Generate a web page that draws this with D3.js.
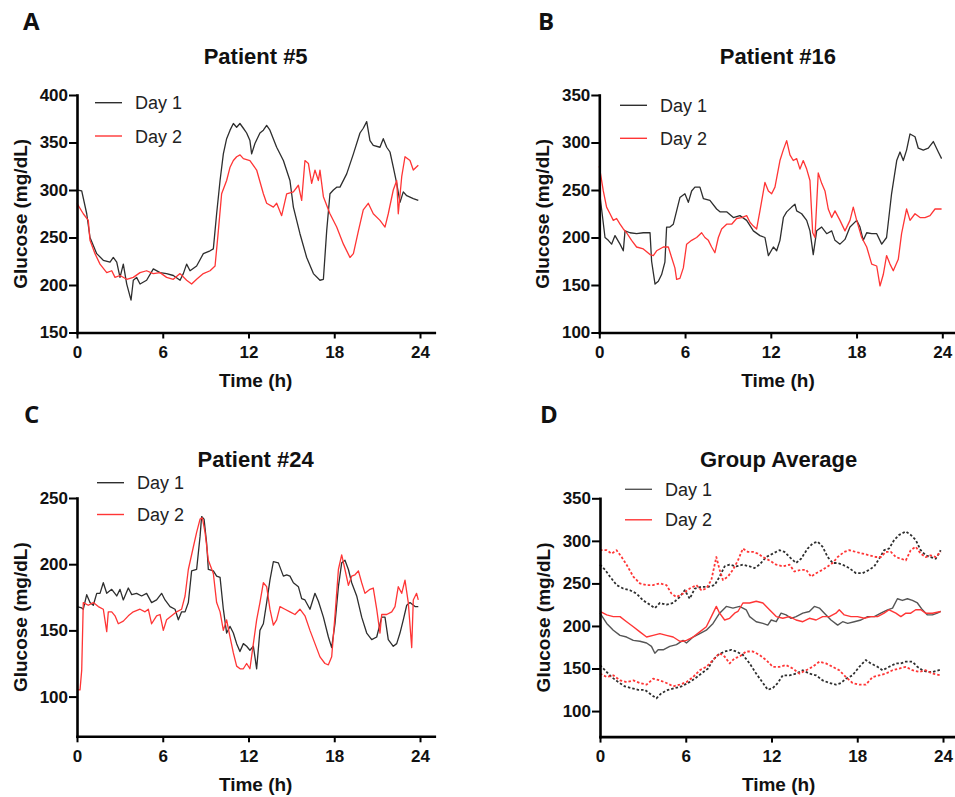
<!DOCTYPE html>
<html>
<head>
<meta charset="utf-8">
<script src="https://cdn.jsdelivr.net/npm/d3@7"></script>
<style>
  body { margin: 0; background: #fff; }
  svg text { font-family: "Liberation Sans", Arial, sans-serif; }
</style>
</head>
<body>
<div id="chart"></div>
<script>
// glucose traces, [time (h), glucose (mg/dL)]
const p5Day1 = [[0,300],[0.33,299],[0.68,275],[0.91,250],[1.38,233],[1.84,226],[2.31,224],[2.54,229],[2.78,224],[3.01,208],[3.24,222],[3.48,201],[3.78,184],[3.94,205],[4.17,208],[4.41,201],[4.87,205],[5.34,217],[5.81,213],[6.27,212],[6.74,210],[7.21,205],[7.44,212],[7.67,222],[7.91,215],[8.37,220],[8.84,233],[9.31,236],[9.54,238],[9.77,275],[10.01,310],[10.24,338],[10.47,354],[10.71,363],[10.94,370],[11.17,366],[11.4,370],[11.64,365],[11.87,360],[12.1,352],[12.22,338],[12.45,349],[12.8,360],[13.04,363],[13.27,368],[13.5,363],[13.97,345],[14.44,331],[14.9,310],[15.14,282],[15.37,268],[15.6,254],[16.07,229],[16.54,212],[17.0,205],[17.24,206],[17.47,257],[17.7,296],[17.94,300],[18.17,303],[18.4,303],[18.87,317],[19.34,338],[19.8,360],[20.03,365],[20.27,372],[20.5,352],[20.73,347],[21.2,345],[21.43,354],[21.67,345],[21.9,340],[22.13,324],[22.37,307],[22.6,287],[22.83,298],[23.07,294],[23.53,291],[23.88,289]];
const p5Day2 = [[0,286],[0.44,275],[0.79,268],[0.91,247],[1.26,233],[1.61,222],[2.08,213],[2.43,215],[2.66,208],[3.01,210],[3.48,206],[3.94,208],[4.41,213],[4.87,215],[5.34,212],[5.81,213],[6.27,208],[6.74,206],[7.21,212],[7.67,205],[8.02,201],[8.37,206],[8.84,212],[9.31,215],[9.66,220],[9.89,257],[10.12,296],[10.47,310],[10.71,324],[10.94,331],[11.17,335],[11.41,337],[11.64,333],[12.1,331],[12.57,321],[13.04,296],[13.27,286],[13.74,282],[13.97,286],[14.32,273],[14.67,296],[15.14,298],[15.49,305],[15.72,289],[15.95,331],[16.19,328],[16.42,307],[16.65,321],[16.89,310],[17.0,321],[17.24,293],[17.7,275],[18.17,261],[18.64,243],[19.1,229],[19.34,233],[19.69,257],[20.03,279],[20.38,286],[20.73,275],[21.2,268],[21.55,261],[21.78,275],[22.13,300],[22.37,310],[22.48,275],[22.72,314],[22.95,335],[23.3,331],[23.53,321],[23.88,326]];

const p16Day1 = [[0,250],[0.4,200],[0.63,197],[0.86,193],[1.1,202],[1.45,193],[1.68,186],[1.8,207],[2.15,205],[2.61,204],[3.08,205],[3.55,205],[3.66,175],[3.9,151],[4.13,154],[4.36,161],[4.59,174],[4.71,211],[4.94,211],[5.18,214],[5.41,228],[5.64,242],[5.99,246],[6.23,237],[6.46,249],[6.69,253],[7.04,253],[7.28,241],[7.74,239],[8.21,230],[8.44,227],[8.91,227],[9.38,221],[9.84,223],[10.31,218],[10.78,207],[11.24,202],[11.59,200],[11.83,181],[12.18,190],[12.41,186],[12.64,197],[12.88,221],[13.11,227],[13.46,232],[13.69,235],[13.81,228],[14.16,225],[14.51,218],[14.74,207],[14.97,182],[15.21,207],[15.56,211],[15.91,204],[16.26,207],[16.49,197],[16.84,193],[17.19,198],[17.54,211],[18.01,218],[18.24,211],[18.47,197],[18.71,205],[19.06,204],[19.41,204],[19.76,193],[20.1,200],[20.45,246],[20.81,281],[21.04,290],[21.27,281],[21.5,292],[21.74,309],[22.09,306],[22.32,294],[22.67,292],[23.02,294],[23.37,301],[23.72,290],[23.95,283]];
const p16Day2 = [[0,275],[0.28,249],[0.51,232],[0.75,225],[0.98,218],[1.21,220],[1.45,214],[1.68,209],[1.91,205],[2.26,197],[2.61,190],[3.08,188],[3.55,182],[3.78,181],[4.01,186],[4.48,190],[4.83,190],[5.06,179],[5.29,168],[5.41,156],[5.64,157],[5.88,168],[6.11,193],[6.46,197],[6.81,200],[7.16,205],[7.39,200],[7.63,197],[7.86,190],[8.09,184],[8.33,200],[8.56,209],[8.91,214],[9.26,214],[9.61,220],[9.96,221],[10.31,223],[10.54,216],[10.78,212],[11.01,209],[11.24,228],[11.59,258],[11.83,249],[12.06,246],[12.29,253],[12.64,281],[12.87,292],[13.11,302],[13.34,287],[13.57,281],[13.81,283],[14.04,272],[14.27,281],[14.51,272],[14.74,260],[14.93,205],[15.09,200],[15.32,268],[15.56,257],[15.79,249],[16.02,230],[16.26,221],[16.49,228],[16.84,218],[17.19,207],[17.54,218],[17.77,232],[18.01,218],[18.36,200],[18.71,190],[19.06,172],[19.41,170],[19.64,149],[19.87,161],[20.1,181],[20.34,172],[20.57,165],[20.92,177],[21.15,204],[21.5,230],[21.74,218],[22.09,225],[22.44,221],[22.79,221],[23.14,223],[23.49,230],[23.95,230]];

const p24Day1 = [[0,168],[0.33,167],[0.44,166],[0.68,177],[0.91,171],[1.14,169],[1.38,178],[1.61,178],[1.84,186],[2.08,178],[2.43,181],[2.78,176],[3.01,181],[3.24,173],[3.59,182],[3.83,177],[4.17,178],[4.52,176],[4.87,178],[5.22,171],[5.57,173],[5.92,178],[6.16,173],[6.51,168],[6.86,166],[7.09,158],[7.32,164],[7.56,164],[7.79,171],[8.02,195],[8.37,196],[8.61,221],[8.72,236],[8.89,234],[9.07,216],[9.19,196],[9.54,195],[9.77,191],[10.01,190],[10.24,166],[10.47,148],[10.71,153],[10.94,148],[11.17,140],[11.4,134],[11.64,140],[11.87,138],[12.1,135],[12.34,138],[12.57,121],[12.8,150],[13.04,155],[13.27,171],[13.5,188],[13.74,202],[14.09,201],[14.44,191],[14.67,192],[14.9,191],[15.14,186],[15.49,183],[15.72,174],[15.95,173],[16.3,166],[16.65,178],[16.89,172],[17.24,160],[17.59,145],[17.82,137],[18.05,155],[18.29,183],[18.52,201],[18.75,203],[18.99,196],[19.22,186],[19.57,176],[19.92,160],[20.27,148],[20.62,143],[20.97,145],[21.32,160],[21.55,160],[21.78,143],[22.13,138],[22.37,140],[22.6,148],[22.83,158],[23.07,169],[23.3,171],[23.65,168],[23.88,168]];
const p24Day2 = [[0,105],[0.21,105],[0.33,120],[0.44,171],[0.79,169],[1.14,171],[1.49,168],[1.84,166],[2.08,149],[2.19,164],[2.43,164],[2.66,161],[2.89,155],[3.24,157],[3.59,161],[3.94,164],[4.41,166],[4.76,164],[4.99,166],[5.22,155],[5.57,161],[5.81,162],[6.04,150],[6.27,158],[6.62,161],[6.97,164],[7.32,166],[7.56,176],[7.79,196],[8.14,213],[8.37,224],[8.61,234],[8.77,235],[8.96,224],[9.19,203],[9.54,193],[9.77,171],[10.01,164],[10.24,150],[10.47,158],[10.71,145],[10.94,133],[11.17,123],[11.41,121],[11.64,121],[11.87,125],[12.1,121],[12.34,140],[12.57,158],[12.8,171],[13.04,186],[13.27,183],[13.5,166],[13.74,154],[13.97,158],[14.2,168],[14.55,166],[14.9,164],[15.25,162],[15.6,166],[15.95,161],[16.3,150],[16.65,140],[17.0,130],[17.35,125],[17.59,124],[17.82,130],[18.05,161],[18.29,196],[18.52,207],[18.75,196],[18.99,184],[19.22,191],[19.45,192],[19.69,195],[19.92,186],[20.15,178],[20.5,181],[20.73,182],[20.97,166],[21.2,148],[21.32,162],[21.67,162],[22.02,164],[22.25,168],[22.48,183],[22.72,178],[22.95,188],[23.18,171],[23.42,137],[23.53,173],[23.76,178],[23.88,173]];

// group average: mean and upper / lower bands (dotted)
const gaDay1 = [[0,215],[0.47,203],[0.93,195],[1.4,189],[1.86,187],[2.33,183],[2.79,182],[3.26,180],[3.6,176],[3.84,168],[4.07,172],[4.42,172],[4.88,176],[5.35,178],[5.81,183],[6.05,180],[6.51,187],[6.98,191],[7.44,195],[7.91,203],[8.37,215],[8.84,223],[9.3,221],[9.77,223],[10.23,219],[10.47,211],[10.93,205],[11.4,203],[11.74,201],[11.98,207],[12.33,205],[12.67,215],[13.02,213],[13.37,209],[13.72,211],[14.19,215],[14.65,217],[15.0,223],[15.35,221],[15.7,215],[16.16,207],[16.63,201],[16.98,205],[17.33,203],[17.79,205],[18.26,207],[18.72,211],[19.19,211],[19.65,215],[20.12,219],[20.47,221],[20.81,232],[21.16,230],[21.51,232],[21.86,230],[22.21,227],[22.56,219],[22.91,213],[23.26,213],[23.6,215],[23.84,217]];
const gaDay2 = [[0,217],[0.47,213],[0.93,211],[1.4,211],[1.86,205],[2.33,199],[2.79,193],[3.26,187],[3.72,189],[4.19,191],[4.65,189],[5.12,187],[5.58,182],[5.81,182],[6.05,183],[6.51,187],[6.98,193],[7.44,199],[7.79,211],[8.14,223],[8.37,215],[8.72,207],[9.07,209],[9.42,215],[9.65,217],[10.0,227],[10.47,227],[10.93,229],[11.4,227],[11.86,219],[12.33,211],[12.79,209],[13.26,211],[13.72,207],[14.19,205],[14.65,209],[15.12,207],[15.58,211],[16.05,211],[16.51,215],[16.74,219],[17.09,213],[17.56,211],[18.02,211],[18.49,209],[18.95,211],[19.42,211],[19.88,215],[20.23,219],[20.7,215],[21.05,211],[21.4,215],[21.74,215],[22.09,219],[22.44,219],[22.79,215],[23.26,215],[23.84,217]];
const gaHi1 = [[0,272],[0.35,266],[0.7,258],[1.16,248],[1.63,244],[2.09,242],[2.56,238],[3.02,230],[3.49,225],[3.84,221],[4.19,227],[4.65,225],[5.12,227],[5.58,234],[5.93,242],[6.28,232],[6.63,244],[7.09,246],[7.56,246],[8.02,248],[8.37,258],[8.72,270],[9.07,272],[9.53,270],[10.0,272],[10.47,270],[10.81,268],[11.16,272],[11.63,281],[12.09,285],[12.56,289],[12.91,287],[13.26,281],[13.72,274],[14.07,279],[14.53,291],[14.88,297],[15.23,299],[15.58,293],[15.93,281],[16.28,274],[16.63,274],[16.98,272],[17.44,268],[17.91,262],[18.37,262],[18.84,266],[19.19,270],[19.53,279],[19.88,289],[20.23,291],[20.58,301],[20.93,307],[21.4,311],[21.74,307],[22.09,301],[22.44,289],[22.79,283],[23.14,281],[23.49,279],[23.84,289]];
const gaHi2 = [[0,289],[0.47,289],[0.81,285],[1.16,289],[1.51,281],[1.86,272],[2.33,258],[2.79,250],[3.26,248],[3.72,248],[4.19,250],[4.65,248],[5.0,238],[5.35,234],[5.81,238],[6.28,244],[6.74,248],[7.09,242],[7.44,244],[7.79,254],[8.14,281],[8.37,266],[8.6,254],[8.95,258],[9.3,266],[9.65,277],[10.0,291],[10.35,287],[10.7,287],[11.05,285],[11.4,281],[11.86,277],[12.33,272],[12.79,270],[13.26,272],[13.6,264],[14.07,266],[14.42,266],[14.77,258],[15.12,262],[15.58,266],[15.93,270],[16.28,274],[16.63,281],[17.09,287],[17.44,289],[17.91,287],[18.37,285],[18.84,283],[19.3,281],[19.65,281],[20.0,287],[20.35,287],[20.7,281],[21.05,279],[21.4,277],[21.74,289],[22.09,293],[22.44,285],[22.79,281],[23.14,283],[23.49,281],[23.84,287]];
const gaLo1 = [[0,154],[0.35,148],[0.81,140],[1.28,134],[1.74,129],[2.21,127],[2.67,125],[3.14,125],[3.6,119],[3.95,115],[4.3,121],[4.77,125],[5.23,127],[5.7,129],[6.16,133],[6.63,138],[7.09,144],[7.56,150],[7.91,160],[8.26,166],[8.72,170],[9.19,172],[9.53,170],[10.0,166],[10.47,156],[10.93,144],[11.4,133],[11.74,125],[12.09,127],[12.44,133],[12.79,142],[13.26,142],[13.72,144],[14.19,148],[14.65,144],[15.12,142],[15.58,136],[16.05,133],[16.51,131],[16.86,133],[17.21,138],[17.67,142],[18.14,152],[18.6,160],[18.95,156],[19.42,152],[19.77,148],[20.23,152],[20.7,156],[21.05,156],[21.4,158],[21.86,158],[22.21,152],[22.56,148],[22.91,146],[23.26,146],[23.72,148],[23.84,148]];
const gaLo2 = [[0,144],[0.47,140],[0.93,142],[1.4,136],[1.86,134],[2.33,136],[2.79,133],[3.26,131],[3.72,138],[4.19,136],[4.65,133],[5.12,129],[5.58,131],[6.05,134],[6.51,140],[6.98,148],[7.44,152],[7.91,160],[8.37,168],[8.72,164],[9.07,156],[9.42,162],[9.77,164],[10.23,170],[10.7,170],[11.16,166],[11.63,160],[12.09,152],[12.56,152],[13.02,154],[13.49,150],[13.95,144],[14.42,148],[14.88,152],[15.35,158],[15.81,156],[16.28,152],[16.74,148],[17.21,140],[17.67,133],[18.14,131],[18.6,131],[19.07,140],[19.53,142],[20.0,144],[20.47,148],[20.93,150],[21.4,152],[21.86,148],[22.33,146],[22.79,148],[23.26,144],[23.84,142]];

const xTicks = [0, 6, 12, 18, 24];
const legendLabels = ["Day 1", "Day 2"];

const BLACK = "#2e2e2e", RED = "#ff3535";

const svg = d3.select("#chart").append("svg")
  .attr("width", 955)
  .attr("height", 797);

// layout of the four panels
const panels = [
  { letter: "A", lx: 23, ly: 30, title: "Patient #5", left: 77, top: 95, bottom: 332.5,
    yDomain: [150, 400], yTicks: [150, 200, 250, 300, 350, 400],
    series: [{ d: p5Day1, c: BLACK }, { d: p5Day2, c: RED }],
    leg: { x: 95, y: 102.7, dy: 33.3 }, titleY: 64 },
  { letter: "B", lx: 538, ly: 30, title: "Patient #16", left: 599.3, top: 95, bottom: 332.5,
    yDomain: [100, 350], yTicks: [100, 150, 200, 250, 300, 350],
    series: [{ d: p16Day1, c: BLACK }, { d: p16Day2, c: RED }],
    leg: { x: 620, y: 105.3, dy: 33 }, titleY: 64 },
  { letter: "C", lx: 24, ly: 423, title: "Patient #24", left: 77, top: 498, bottom: 736.3,
    yDomain: [70, 250], yTicks: [100, 150, 200, 250],
    series: [{ d: p24Day1, c: BLACK }, { d: p24Day2, c: RED }],
    leg: { x: 97, y: 482.7, dy: 31.8 }, titleY: 467 },
  { letter: "D", lx: 540, ly: 423, title: "Group Average", left: 600, top: 498.3, bottom: 736.6,
    yDomain: [70, 350], yTicks: [100, 150, 200, 250, 300, 350],
    series: [
      { d: gaHi1, c: BLACK, dash: "2.5,2", w: 1.8 }, { d: gaHi2, c: RED, dash: "2.5,2", w: 1.8 },
      { d: gaLo1, c: BLACK, dash: "2.5,2", w: 1.8 }, { d: gaLo2, c: RED, dash: "2.5,2", w: 1.8 },
      { d: gaDay1, c: "#555", w: 1.4 }, { d: gaDay2, c: RED, w: 1.4 }],
    legColors: ["#555", RED],
    leg: { x: 625, y: 489.3, dy: 30.5 }, titleY: 467 }
];

const plotW = 357.3; // width of 0..25 h

panels.forEach(function (p) {
  const g = svg.append("g").attr("transform", "translate(" + p.left + ",0)");
  const x = d3.scaleLinear().domain([0, 25]).range([0, plotW]);
  const y = d3.scaleLinear().domain(p.yDomain).range([p.bottom, p.top]);

  // data lines
  const line = d3.line().x(d => x(d[0])).y(d => y(d[1]));
  p.series.forEach(function (s) {
    g.append("path")
      .attr("d", line(s.d))
      .attr("fill", "none")
      .attr("stroke", s.c)
      .attr("stroke-width", s.w || 1.3)
      .attr("stroke-dasharray", s.dash || null)
      .attr("stroke-linejoin", "round");
  });

  // axes
  const yAxis = g.append("g")
    .call(d3.axisLeft(y).tickValues(p.yTicks).tickSize(8).tickSizeOuter(0).tickPadding(1));
  const xAxis = g.append("g")
    .attr("transform", "translate(0," + p.bottom + ")")
    .call(d3.axisBottom(x).tickValues(xTicks).tickSize(6).tickSizeOuter(0).tickPadding(7.5));
  [xAxis, yAxis].forEach(function (a) {
    a.select(".domain").attr("stroke", "#000").attr("stroke-width", 2.6).attr("stroke-linecap", "square");
    a.selectAll(".tick line").attr("stroke", "#000").attr("stroke-width", 2);
    a.selectAll(".tick text")
      .style("font-size", "17px")
      .style("font-weight", "bold")
      .attr("fill", "#111");
  });

  // axis titles
  g.append("text")
    .attr("x", plotW / 2)
    .attr("y", p.bottom + 54.5)
    .attr("text-anchor", "middle")
    .style("font-size", "19px")
    .style("font-weight", "bold")
    .attr("fill", "#111")
    .text("Time (h)");
  g.append("text")
    .attr("transform", "translate(" + (27 - 77) + "," + ((p.top + p.bottom) / 2) + ") rotate(-90)")
    .attr("text-anchor", "middle")
    .style("font-size", "19px")
    .style("font-weight", "bold")
    .attr("fill", "#111")
    .text("Glucose (mg/dL)");

  // panel title
  svg.append("text")
    .attr("x", p.left + plotW / 2)
    .attr("y", p.titleY)
    .attr("text-anchor", "middle")
    .style("font-size", "22px")
    .style("font-weight", "bold")
    .attr("fill", "#111")
    .text(p.title);

  // panel letter
  svg.append("text")
    .attr("x", p.lx)
    .attr("y", p.ly)
    .style("font-family", "'Open Sans', sans-serif")
    .style("font-size", "24px")
    .style("font-weight", "bold")
    .attr("fill", "#111")
    .text(p.letter);

  // legend
  const cols = p.legColors || [BLACK, RED];
  legendLabels.forEach(function (lab, i) {
    const ly = p.leg.y + i * p.leg.dy;
    svg.append("line")
      .attr("x1", p.leg.x).attr("x2", p.leg.x + 27)
      .attr("y1", ly).attr("y2", ly)
      .attr("stroke", cols[i]).attr("stroke-width", 1.4);
    svg.append("text")
      .attr("x", p.leg.x + 40)
      .attr("y", ly + 6.6)
      .style("font-size", "18px")
      .attr("fill", "#222")
      .text(lab);
  });
});
</script>
</body>
</html>
